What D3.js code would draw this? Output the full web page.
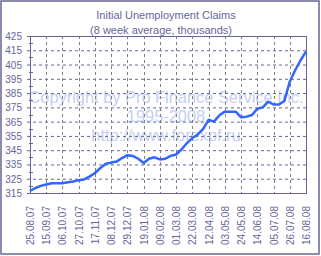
<!DOCTYPE html>
<html>
<head>
<meta charset="utf-8">
<script src="https://cdn.jsdelivr.net/npm/d3@7"></script>
<style>
  body { margin: 0; background: #fff; }
  svg text { font-family: "Liberation Sans", Arial, sans-serif; }
</style>
</head>
<body>
<svg id="chart" width="321" height="256"></svg>
<script>
// weekly 8-week average of initial claims (thousands)
const weeks = d3.range(52);
const claims = [316.5, 318.5, 320, 321, 321.8, 321.8, 321.8, 322.5, 323, 324,
  324.5, 326.5, 329, 332.5, 335.5, 336.3, 337, 339.5, 341.5, 341,
  339, 336, 339, 340, 338.5, 339, 341, 342, 345.5, 350,
  353.5, 356, 360, 366.3, 365, 369.5, 372, 372, 372, 368,
  368.5, 369.6, 374, 375, 379, 377, 377, 379.5, 393, 401,
  408, 414];
const dateLabels = ["25.08.07", "15.09.07", "06.10.07", "27.10.07", "17.11.07", "08.12.07",
  "29.12.07", "19.01.08", "09.02.08", "01.03.08", "22.03.08", "12.04.08",
  "03.05.08", "24.05.08", "14.06.08", "05.07.08", "26.07.08", "16.08.08"];
const yTicks = d3.range(315, 426, 10);
const watermark = ["Copyright by Pro Finance Service Inc.", "1995-2008", "http://www.forexpf.ru"];

const axisCol = "#666699", textCol = "#666699";
const svg = d3.select("#chart");
const margin = {top: 36, left: 30, right: 15, bottom: 63};
const W = 321, H = 256;
const x = d3.scaleLinear().domain([0, 51]).range([margin.left, W - margin.right]);
const y = d3.scaleLinear().domain([315, 425]).range([H - margin.bottom, margin.top]);

// outer frame
svg.append("rect").attr("x", 1).attr("y", 1).attr("width", W - 3).attr("height", H - 3)
  .attr("fill", "none").attr("stroke", axisCol).attr("stroke-width", 1.5);

// titles
svg.append("text").attr("x", 166).attr("y", 19).attr("text-anchor", "middle")
  .attr("font-size", 11).attr("fill", textCol).text("Initial Unemployment Claims");
svg.append("text").attr("x", 161).attr("y", 34).attr("text-anchor", "middle")
  .attr("font-size", 11).attr("fill", textCol).text("(8 week average, thousands)");

// watermark
svg.selectAll("text.wm").data(watermark).join("text").attr("class", "wm")
  .attr("x", 166).attr("y", (d, i) => 103 + i * 19).attr("text-anchor", "middle")
  .attr("font-size", 16.4).attr("fill", "#c4cff3").text(d => d);

// grid
svg.append("g").selectAll("line").data(yTicks.filter(v => v > 315 && v < 425)).join("line")
  .attr("x1", margin.left - 3).attr("x2", W - margin.right)
  .attr("y1", d => y(d) + 0.5).attr("y2", d => y(d) + 0.5)
  .attr("stroke", axisCol).attr("stroke-dasharray", "3,3");
const tickIdx = d3.range(1, 17).map(i => i * 3);
svg.append("g").selectAll("line").data(tickIdx).join("line")
  .attr("x1", d => Math.round(x(d)) + 0.5).attr("x2", d => Math.round(x(d)) + 0.5)
  .attr("y1", margin.top).attr("y2", H - margin.bottom)
  .attr("stroke", "#808080").attr("stroke-dasharray", "3,3");

// minor y ticks
svg.append("g").selectAll("line").data(d3.range(320, 425, 10)).join("line")
  .attr("x1", margin.left - 1).attr("x2", margin.left + 3)
  .attr("y1", d => Math.round(y(d)) + 0.5).attr("y2", d => Math.round(y(d)) + 0.5)
  .attr("stroke", axisCol);

// plot frame
svg.append("rect").attr("x", margin.left + 0.5).attr("y", margin.top + 0.5)
  .attr("width", W - margin.right - margin.left).attr("height", H - margin.bottom - margin.top)
  .attr("fill", "none").attr("stroke", axisCol).attr("stroke-width", 1);
svg.append("g").selectAll("line").data([315, 425]).join("line")
  .attr("x1", margin.left - 3).attr("x2", margin.left)
  .attr("y1", d => y(d) + 0.5).attr("y2", d => y(d) + 0.5).attr("stroke", axisCol);

// y labels
svg.append("g").selectAll("text").data(yTicks).join("text")
  .attr("x", 22).attr("y", d => y(d) + 4).attr("text-anchor", "end")
  .attr("font-size", 10).attr("fill", textCol).text(d => d);

// x labels (rotated)
svg.append("g").selectAll("text").data(dateLabels).join("text")
  .attr("transform", (d, i) => `translate(${x(i * 3) + 4},${H - margin.bottom + 13}) rotate(-90)`)
  .attr("text-anchor", "end").attr("font-size", 10).attr("fill", textCol).text(d => d);

// line
const line = d3.line().x(i => x(i)).y(i => y(claims[i]));
svg.append("path").datum(weeks).attr("d", line)
  .attr("fill", "none").attr("stroke", "#3366ff").attr("stroke-width", 2.5)
  .attr("stroke-linejoin", "round");
</script>
</body>
</html>
